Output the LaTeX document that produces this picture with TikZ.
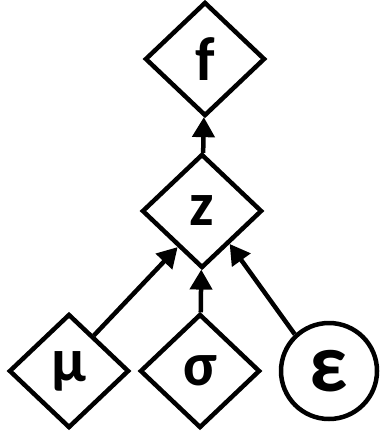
\documentclass[tikz,border=0pt]{standalone}
\usepackage{fontspec}
\setmainfont{Carlito}
\usepackage{tikz}
\usetikzlibrary{arrows.meta,shapes.geometric}

\tikzset{
  var/.style={draw,diamond,line width=4.5bp,minimum width=120bp,minimum height=114bp,inner sep=0pt,
    font=\fontsize{62}{70}\selectfont\bfseries},
  noise/.style={draw,circle,line width=4.5bp,minimum size=96bp,inner sep=0pt,
    font=\fontsize{84}{90}\selectfont\bfseries},
  link/.style={line width=4.5bp,-{Triangle[length=20bp,width=22bp]}}
}

\begin{document}
\begin{tikzpicture}[x=1bp,y=-1bp,node distance=160bp]
  \useasboundingbox (0,0) rectangle (382,440);
  \node[var] (z) at (202,211) {z};
  \node[var] (f) [above of=z, yshift=-8bp, xshift=3bp] {f};
  \node[var] (sigma) [below of=z, xshift=-2bp] {σ};
  \node[var] (mu) [left of=sigma, xshift=29bp] {μ};
  \node[noise] (eps) [right of=sigma, xshift=-31bp] {ε};

  \draw[link] (z) -- (f);
  \draw[link] (sigma) -- (z);
  \draw[link] (mu.55) -- (z.236);
  \draw[link] (eps.133) -- (z.310);
\end{tikzpicture}
\end{document}
